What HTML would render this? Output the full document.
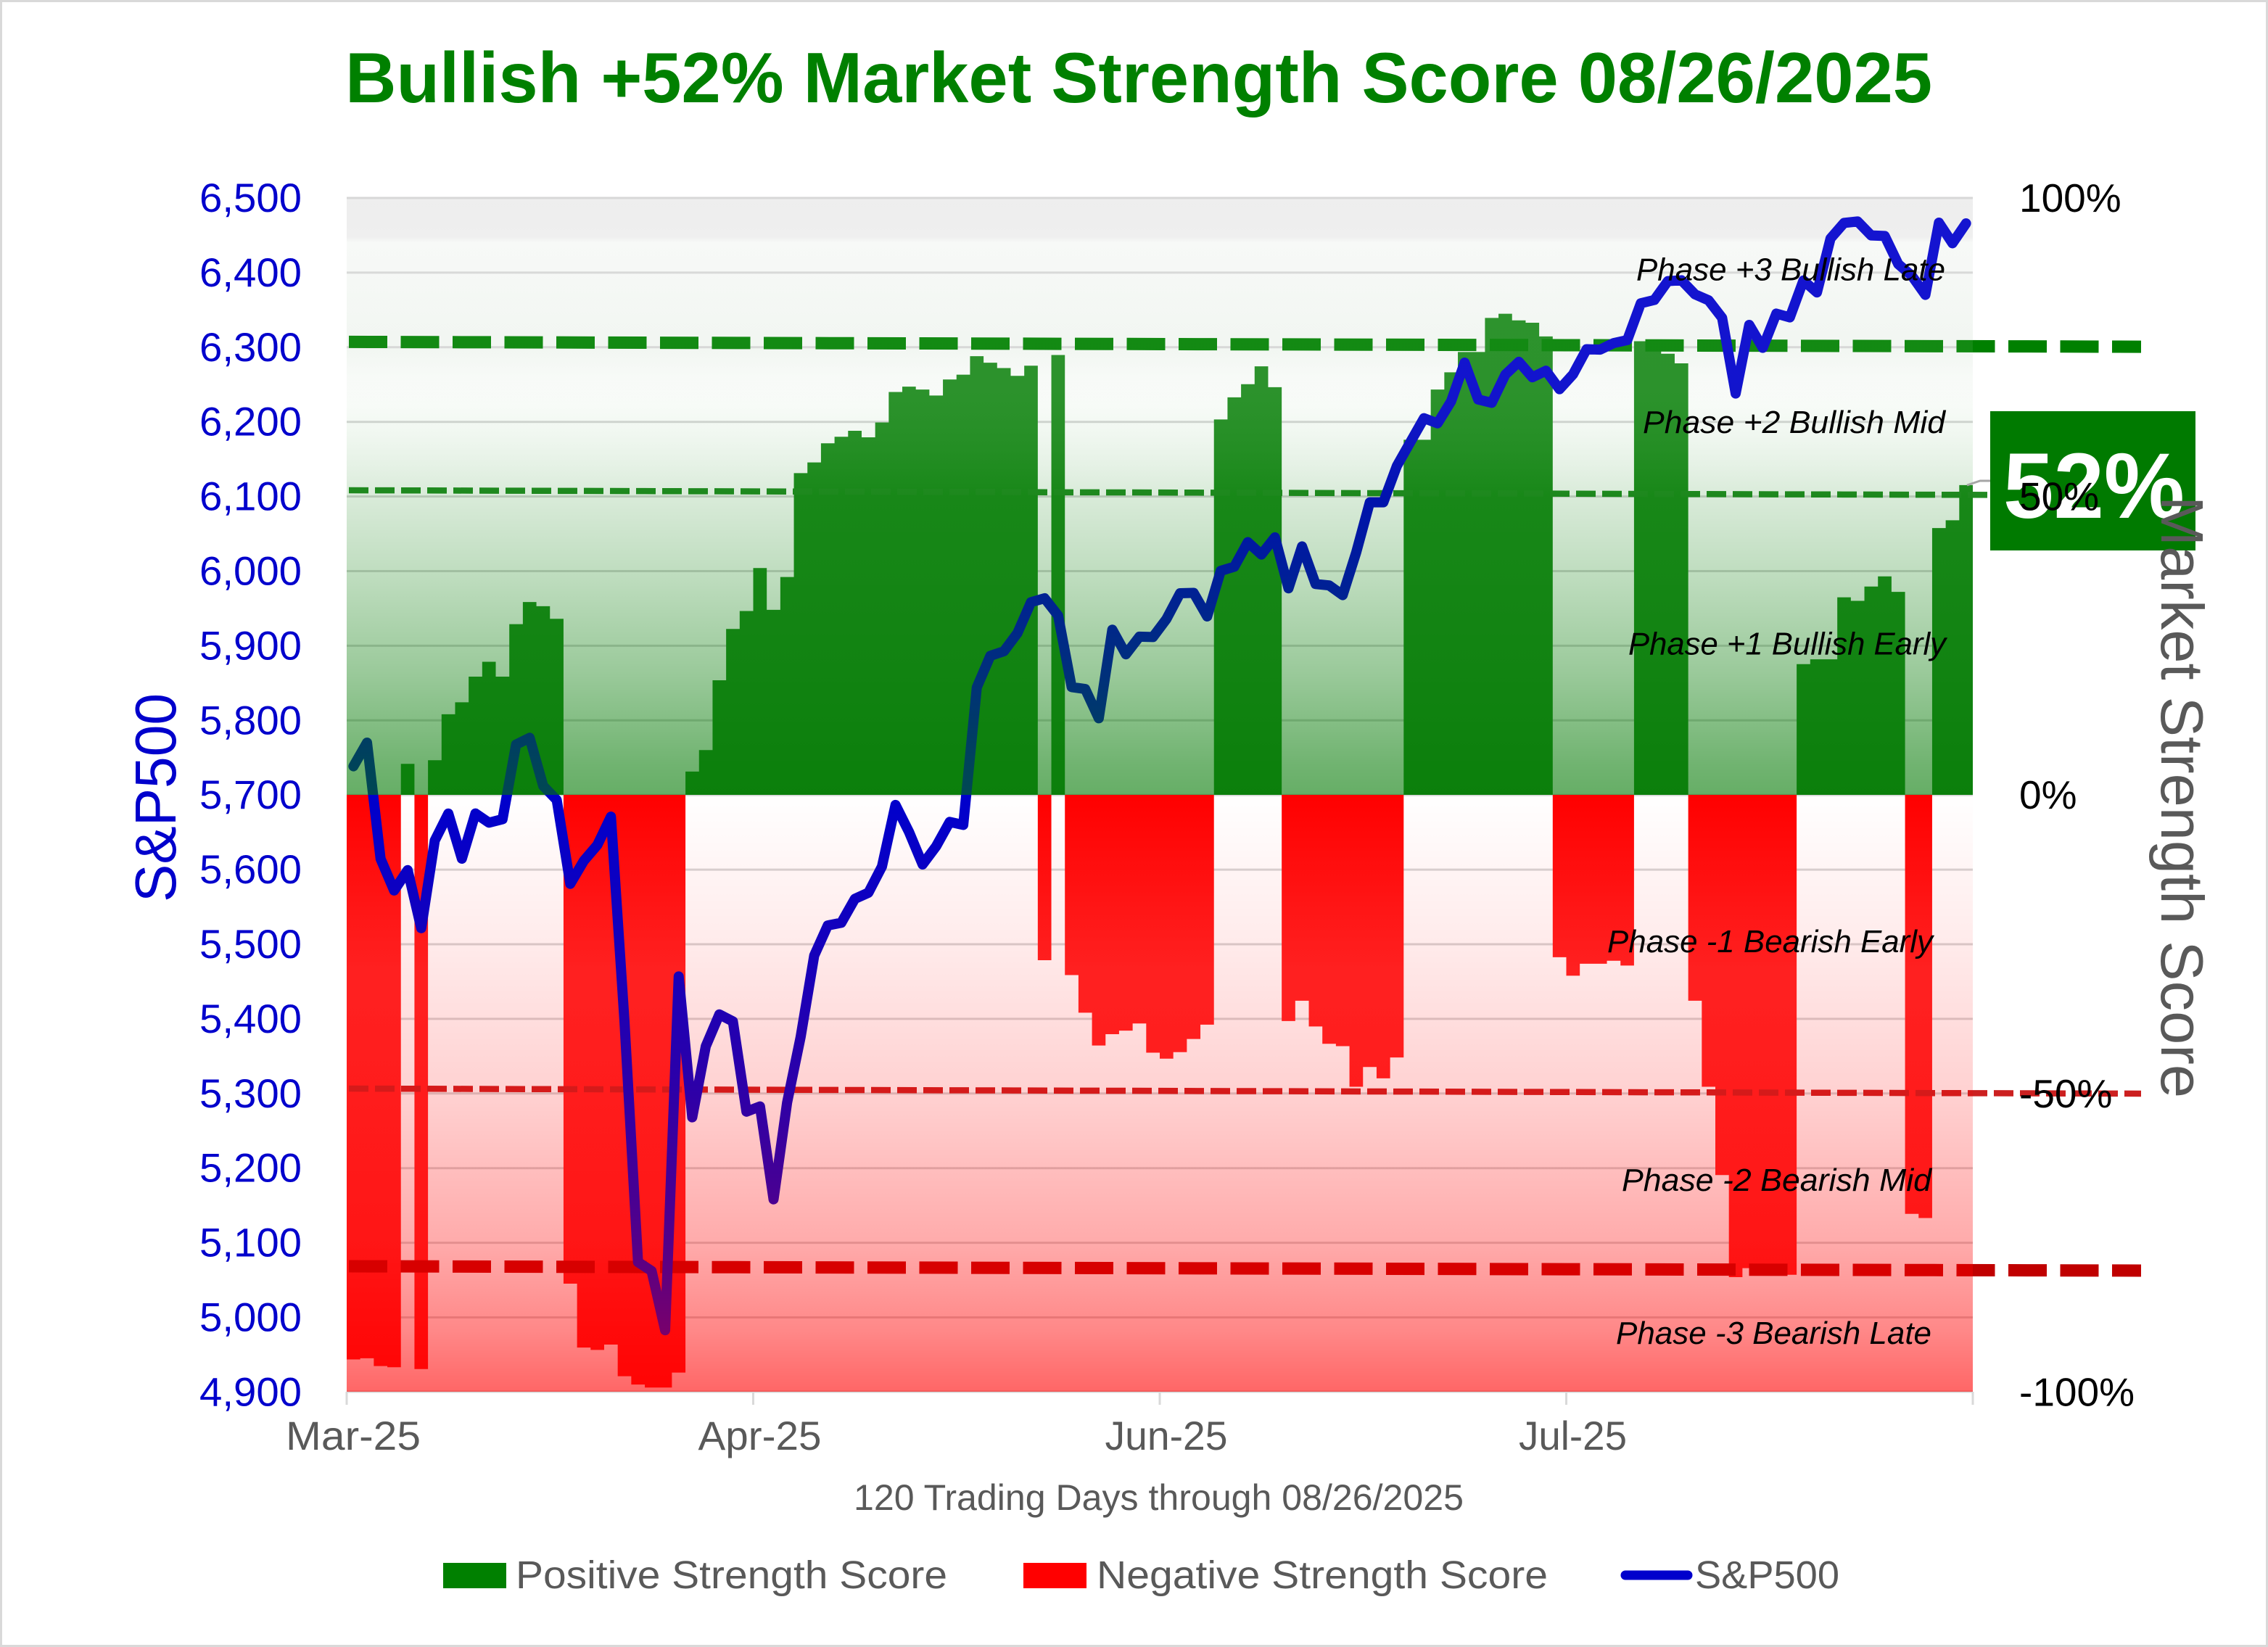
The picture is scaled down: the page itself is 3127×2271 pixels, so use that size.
<!DOCTYPE html>
<html>
<head>
<meta charset="utf-8">
<style>
  html, body { margin: 0; padding: 0; background: #ffffff; }
  body { width: 3127px; height: 2271px; overflow: hidden; }
  svg { display: block; }
</style>
</head>
<body>
<svg width="3127" height="2271" viewBox="0 0 3127 2271" xmlns="http://www.w3.org/2000/svg" font-family="'Liberation Sans', Arial, sans-serif">
  <defs>
    <linearGradient id="bgG" x1="0" y1="0" x2="0" y2="1">
      <stop offset="0" stop-color="#ececec"/>
      <stop offset="0.065" stop-color="#eeeeee"/>
      <stop offset="0.075" stop-color="#f7f9f7"/>
      <stop offset="0.25" stop-color="#f2f6f2"/>
      <stop offset="0.35" stop-color="#ffffff"/>
      <stop offset="1" stop-color="#ffffff"/>
    </linearGradient>
    <linearGradient id="ovG" x1="0" y1="0" x2="0" y2="1">
      <stop offset="0" stop-color="#ffffff" stop-opacity="0.08"/>
      <stop offset="0.3" stop-color="#e8f4e8" stop-opacity="0.08"/>
      <stop offset="0.5" stop-color="#007800" stop-opacity="0.15"/>
      <stop offset="0.64" stop-color="#007800" stop-opacity="0.26"/>
      <stop offset="0.8" stop-color="#007800" stop-opacity="0.40"/>
      <stop offset="0.95" stop-color="#007800" stop-opacity="0.56"/>
      <stop offset="1" stop-color="#007800" stop-opacity="0.60"/>
    </linearGradient>
    <linearGradient id="ovR" x1="0" y1="0" x2="0" y2="1">
      <stop offset="0" stop-color="#ff0000" stop-opacity="0"/>
      <stop offset="0.25" stop-color="#ff0000" stop-opacity="0.08"/>
      <stop offset="0.5" stop-color="#ff0000" stop-opacity="0.18"/>
      <stop offset="0.75" stop-color="#ff0000" stop-opacity="0.33"/>
      <stop offset="0.9" stop-color="#ff0000" stop-opacity="0.47"/>
      <stop offset="1" stop-color="#ff0000" stop-opacity="0.60"/>
    </linearGradient>
    <linearGradient id="rb" gradientUnits="userSpaceOnUse" x1="0" y1="0" x2="0" y2="100">
      <stop offset="0" stop-color="#ff0000"/>
      <stop offset="0.3" stop-color="#ff2424"/>
      <stop offset="0.75" stop-color="#ff2020"/>
      <stop offset="1" stop-color="#ff0a0a"/>
    </linearGradient>
  </defs>

  <!-- page background and border -->
  <rect x="0" y="0" width="3127" height="2271" fill="#ffffff"/>
  <rect x="1.5" y="1.5" width="3124" height="2268" fill="none" stroke="#d9d9d9" stroke-width="3"/>

  <!-- Title -->
  <text x="476" y="141" font-size="98" font-weight="bold" fill="#008000" textLength="2188" lengthAdjust="spacingAndGlyphs">Bullish +52% Market Strength Score 08/26/2025</text>

  <!-- plot background -->
  <rect x="478" y="273" width="2242" height="823" fill="url(#bgG)"/>
  <rect x="478" y="1096" width="2242" height="823" fill="#ffffff"/>

  <!-- gridlines -->
  <g stroke="#d6d6d6" stroke-width="3">
    <line x1="478" y1="273" x2="2720" y2="273"/>
    <line x1="478" y1="375.9" x2="2720" y2="375.9"/>
    <line x1="478" y1="478.8" x2="2720" y2="478.8"/>
    <line x1="478" y1="581.7" x2="2720" y2="581.7"/>
    <line x1="478" y1="684.6" x2="2720" y2="684.6"/>
    <line x1="478" y1="787.5" x2="2720" y2="787.5"/>
    <line x1="478" y1="890.4" x2="2720" y2="890.4"/>
    <line x1="478" y1="993.3" x2="2720" y2="993.3"/>
    <line x1="478" y1="1096.2" x2="2720" y2="1096.2"/>
    <line x1="478" y1="1199.1" x2="2720" y2="1199.1"/>
    <line x1="478" y1="1302" x2="2720" y2="1302"/>
    <line x1="478" y1="1404.9" x2="2720" y2="1404.9"/>
    <line x1="478" y1="1507.8" x2="2720" y2="1507.8"/>
    <line x1="478" y1="1610.7" x2="2720" y2="1610.7"/>
    <line x1="478" y1="1713.6" x2="2720" y2="1713.6"/>
    <line x1="478" y1="1816.5" x2="2720" y2="1816.5"/>
    <line x1="478" y1="1919" x2="2720" y2="1919"/>
  </g>

  <!-- Bars -->
  <g transform="matrix(18.6833,0,0,8.23,478,1096)">
    <path fill="#1c8a1c" d="M4 0V-5.2H5V0Z
      M6 0V-5.8H7V-13.5H8V-15.5H9V-19.8H10V-22.3H11V-19.8H12V-28.6H13V-32.3H14V-31.6H15V-29.5H16V0Z
      M25 0V-3.9H26V-7.5H27V-19.2H28V-27.8H29V-30.8H30V-38H31V-31H32V-36.5H33V-53.9H34V-55.7H35V-58.9H36V-60H37V-61H38V-59.9H39V-62.4H40V-67.5H41V-68.4H42V-67.9H43V-66.9H44V-69.6H45V-70.4H46V-73.5H47V-72.4H48V-71.5H49V-70.2H50V-71.9H51V0Z
      M52 0V-73.7H53V0Z
      M64 0V-62.9H65V-66.6H66V-68.8H67V-71.8H68V-68.3H69V0Z
      M78 0V-59.5H80V-67.9H81V-70.8H82V-74.2H84V-79.9H85V-80.6H86V-79.5H87V-79.1H88V-76.8H89V0Z
      M95 0V-76H96V-75.7H97V-73.9H98V-72.3H99V0Z
      M107 0V-21.9H108V-22.7H110V-33.1H111V-32.5H112V-34.9H113V-36.6H114V-34H115V0Z
      M117 0V-44.7H118V-46H119V-51.9H120V0Z"/>
    <path fill="url(#rb)" d="M0 0V94.6H1V94.4H2V95.7H3V95.9H4V0Z
      M5 0V96.2H6V0Z
      M16 0V81.9H17V92.6H18V93H19V92.1H20V97.4H21V98.8H22V99.3H24V96.8H25V0Z
      M51 0V27.7H52V0Z
      M53 0V30.2H54V36.5H55V42H56V40.1H57V39.5H58V38.3H59V43.2H60V44.2H61V43.1H62V40.9H63V38.5H64V0Z
      M69 0V37.9H70V34.5H71V38.8H72V41.7H73V42.1H74V48.9H75V45.6H76V47.5H77V44H78V0Z
      M89 0V27.2H90V30.3H91V28.3H93V27.8H94V28.6H95V0Z
      M99 0V34.5H100V48.9H101V63.7H102V80.8H103V79.3H104V79H105V79.7H106V80.4H107V0Z
      M115 0V70.2H116V70.9H117V0Z"/>
  </g>

  <!-- Phase threshold dashed lines -->
  <line x1="481" y1="471.4" x2="2952" y2="478.1" stroke="#008000" stroke-width="17" stroke-dasharray="53 18.5"/>
  <line x1="481" y1="676" x2="2744" y2="682.4" stroke="#228b22" stroke-width="8.5" stroke-dasharray="27 9"/>
  <line x1="481" y1="1501" x2="2952" y2="1508" stroke="#cc2020" stroke-width="8.5" stroke-dasharray="27 9"/>
  <line x1="481" y1="1746" x2="2952" y2="1752" stroke="#c00000" stroke-width="17" stroke-dasharray="53 18.5"/>

  <!-- S&P500 line -->
  <polyline transform="matrix(18.6833,0,0,-1.029,478,6961.5)" fill="none" stroke="#0000cc" stroke-width="14" stroke-linejoin="round" stroke-linecap="round" vector-effect="non-scaling-stroke"
    points="0.5,5738.52 1.5,5770.2 2.5,5614.56 3.5,5572.07 4.5,5599.3 5.5,5521.52 6.5,5638.94 7.5,5675.12 8.5,5614.66 9.5,5675.29 10.5,5662.89 11.5,5667.56 12.5,5767.57 13.5,5776.65 14.5,5712.2 15.5,5693.31 16.5,5580.94 17.5,5611.85 18.5,5633.07 19.5,5670.97 20.5,5396.52 21.5,5074.08 22.5,5062.25 23.5,4982.77 24.5,5456.9 25.5,5268.05 26.5,5363.36 27.5,5405.97 28.5,5396.63 29.5,5275.7 30.5,5282.7 31.5,5158.2 32.5,5287.76 33.5,5375.86 34.5,5484.77 35.5,5525.21 36.5,5528.75 37.5,5560.83 38.5,5569.06 39.5,5604.14 40.5,5686.67 41.5,5650.38 42.5,5606.91 43.5,5631.28 44.5,5663.94 45.5,5659.91 46.5,5844.19 47.5,5886.55 48.5,5892.58 49.5,5916.93 50.5,5958.38 51.5,5963.6 52.5,5940.46 53.5,5844.61 54.5,5842.01 55.5,5802.82 56.5,5921.54 57.5,5888.55 58.5,5912.17 59.5,5911.69 60.5,5935.94 61.5,5970.37 62.5,5970.81 63.5,5939.3 64.5,6000.36 65.5,6005.88 66.5,6038.81 67.5,6022.24 68.5,6045.26 69.5,5976.97 70.5,6033.11 71.5,5982.72 72.5,5980.87 73.5,5967.84 74.5,6025.17 75.5,6092.18 76.5,6092.16 77.5,6141.02 78.5,6173.07 79.5,6204.95 80.5,6198.01 81.5,6227.42 82.5,6279.35 83.5,6229.98 84.5,6225.52 85.5,6263.26 86.5,6280.46 87.5,6259.75 88.5,6268.56 89.5,6243.76 90.5,6263.7 91.5,6297.36 92.5,6296.79 93.5,6305.6 94.5,6309.62 95.5,6358.91 96.5,6363.35 97.5,6388.64 98.5,6389.77 99.5,6370.86 100.5,6362.9 101.5,6339.39 102.5,6238.01 103.5,6329.94 104.5,6299.19 105.5,6345.06 106.5,6340 107.5,6389.45 108.5,6373.45 109.5,6445.76 110.5,6466.58 111.5,6468.54 112.5,6449.8 113.5,6449.15 114.5,6411.37 115.5,6395.78 116.5,6370.17 117.5,6466.91 118.5,6439.32 119.5,6465.94"/>

  <!-- gradient overlay on plot -->
  <rect x="478" y="273" width="2242" height="823" fill="url(#ovG)"/>
  <rect x="478" y="1096" width="2242" height="823" fill="url(#ovR)"/>

  <!-- x-axis ticks -->
  <g stroke="#d9d9d9" stroke-width="3">
    <line x1="478" y1="1919" x2="478" y2="1937"/>
    <line x1="1038.5" y1="1919" x2="1038.5" y2="1937"/>
    <line x1="1599" y1="1919" x2="1599" y2="1937"/>
    <line x1="2159.5" y1="1919" x2="2159.5" y2="1937"/>
    <line x1="2720" y1="1919" x2="2720" y2="1937"/>
  </g>

  <!-- Phase labels -->
  <g font-size="44" font-style="italic" fill="#000000">
    <text x="2256" y="386.5" textLength="426" lengthAdjust="spacingAndGlyphs">Phase +3 Bullish Late</text>
    <text x="2265" y="597" textLength="417" lengthAdjust="spacingAndGlyphs">Phase +2 Bullish Mid</text>
    <text x="2245" y="902.6" textLength="438" lengthAdjust="spacingAndGlyphs">Phase +1 Bullish Early</text>
    <text x="2216" y="1313" textLength="449" lengthAdjust="spacingAndGlyphs">Phase -1 Bearish Early</text>
    <text x="2236" y="1642" textLength="427" lengthAdjust="spacingAndGlyphs">Phase -2 Bearish Mid</text>
    <text x="2228" y="1853" textLength="435" lengthAdjust="spacingAndGlyphs">Phase -3 Bearish Late</text>
  </g>

  <!-- callout connector and 52% box -->
  <polyline points="2712,669 2730,663 2744,663" fill="none" stroke="#a6a6a6" stroke-width="3"/>
  <rect x="2744" y="567" width="283" height="192" fill="#007a00"/>
  <text x="2762" y="714" font-size="128" font-weight="bold" fill="#ffffff" textLength="250" lengthAdjust="spacingAndGlyphs">52%</text>

  <!-- Left axis labels -->
  <g font-size="56" fill="#0000cc" text-anchor="end">
    <text x="416" y="292" textLength="141" lengthAdjust="spacingAndGlyphs">6,500</text>
    <text x="416" y="394.9" textLength="141" lengthAdjust="spacingAndGlyphs">6,400</text>
    <text x="416" y="497.8" textLength="141" lengthAdjust="spacingAndGlyphs">6,300</text>
    <text x="416" y="600.7" textLength="141" lengthAdjust="spacingAndGlyphs">6,200</text>
    <text x="416" y="703.6" textLength="141" lengthAdjust="spacingAndGlyphs">6,100</text>
    <text x="416" y="806.5" textLength="141" lengthAdjust="spacingAndGlyphs">6,000</text>
    <text x="416" y="909.4" textLength="141" lengthAdjust="spacingAndGlyphs">5,900</text>
    <text x="416" y="1012.3" textLength="141" lengthAdjust="spacingAndGlyphs">5,800</text>
    <text x="416" y="1115.2" textLength="141" lengthAdjust="spacingAndGlyphs">5,700</text>
    <text x="416" y="1218.1" textLength="141" lengthAdjust="spacingAndGlyphs">5,600</text>
    <text x="416" y="1321" textLength="141" lengthAdjust="spacingAndGlyphs">5,500</text>
    <text x="416" y="1423.9" textLength="141" lengthAdjust="spacingAndGlyphs">5,400</text>
    <text x="416" y="1526.8" textLength="141" lengthAdjust="spacingAndGlyphs">5,300</text>
    <text x="416" y="1629.7" textLength="141" lengthAdjust="spacingAndGlyphs">5,200</text>
    <text x="416" y="1732.6" textLength="141" lengthAdjust="spacingAndGlyphs">5,100</text>
    <text x="416" y="1835.5" textLength="141" lengthAdjust="spacingAndGlyphs">5,000</text>
    <text x="416" y="1938.4" textLength="141" lengthAdjust="spacingAndGlyphs">4,900</text>
  </g>

  <!-- Right axis labels -->
  <g font-size="55" fill="#000000">
    <text x="2784" y="292">100%</text>
    <text x="2784" y="703.6">50%</text>
    <text x="2784" y="1115.2">0%</text>
    <text x="2784" y="1526.8">-50%</text>
    <text x="2784" y="1938.4">-100%</text>
  </g>

  <!-- Axis titles -->
  <text transform="translate(242,1100) rotate(-90)" text-anchor="middle" font-size="80" fill="#0000cc" textLength="288" lengthAdjust="spacingAndGlyphs">S&amp;P500</text>
  <text transform="translate(2980,1099) rotate(90)" text-anchor="middle" font-size="83" fill="#595959" textLength="830" lengthAdjust="spacingAndGlyphs">Market Strength Score</text>

  <!-- X-axis labels -->
  <g font-size="56" fill="#595959" text-anchor="middle">
    <text x="487" y="1999" textLength="186" lengthAdjust="spacingAndGlyphs">Mar-25</text>
    <text x="1047.5" y="1999" textLength="170" lengthAdjust="spacingAndGlyphs">Apr-25</text>
    <text x="1608" y="1999" textLength="169" lengthAdjust="spacingAndGlyphs">Jun-25</text>
    <text x="2168.5" y="1999" textLength="149" lengthAdjust="spacingAndGlyphs">Jul-25</text>
  </g>
  <text x="1177" y="2082" font-size="50" fill="#595959" textLength="841" lengthAdjust="spacingAndGlyphs">120 Trading Days through 08/26/2025</text>

  <!-- Legend -->
  <rect x="611" y="2155" width="87" height="35" fill="#008000"/>
  <text x="711" y="2190" font-size="54" fill="#595959" textLength="595" lengthAdjust="spacingAndGlyphs">Positive Strength Score</text>
  <rect x="1411" y="2155" width="87" height="35" fill="#ff0000"/>
  <text x="1512" y="2190" font-size="54" fill="#595959" textLength="622" lengthAdjust="spacingAndGlyphs">Negative Strength Score</text>
  <line x1="2241" y1="2172" x2="2327" y2="2172" stroke="#0000cc" stroke-width="13" stroke-linecap="round"/>
  <text x="2337" y="2190" font-size="54" fill="#595959" textLength="199" lengthAdjust="spacingAndGlyphs">S&amp;P500</text>
</svg>
</body>
</html>
